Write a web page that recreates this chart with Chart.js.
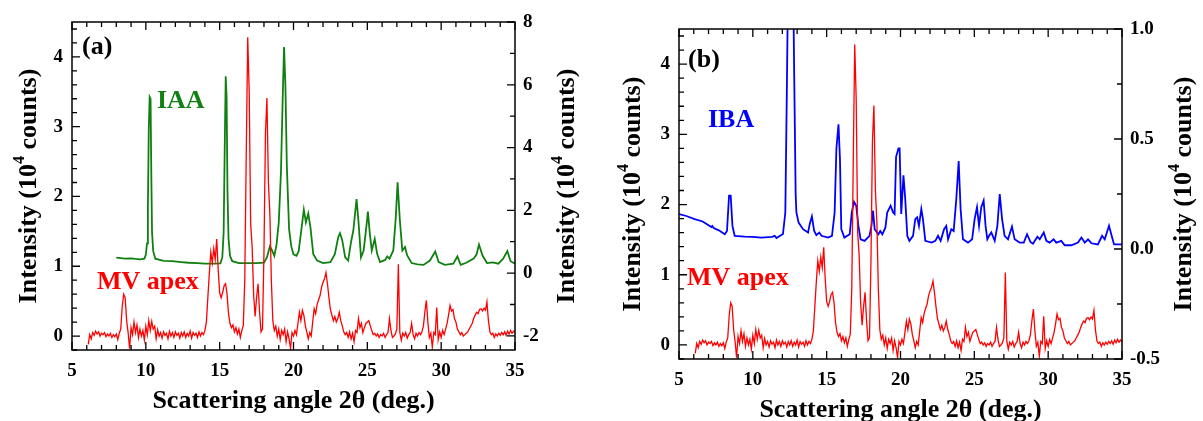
<!DOCTYPE html>
<html>
<head>
<meta charset="utf-8">
<title>XRD patterns</title>
<script src="https://cdn.jsdelivr.net/npm/chart.js@4.4.1/dist/chart.umd.min.js"></script>
<style>
  html, body { margin: 0; padding: 0; background: #fff; }
  body { width: 1203px; height: 421px; position: relative; overflow: hidden; }
  .panel { position: absolute; top: 0; height: 421px; }
</style>
</head>
<body>
<div class="panel" style="left:0;width:600px"><canvas id="panelA" width="600" height="421"></canvas></div>
<div class="panel" style="left:600px;width:603px"><canvas id="panelB" width="603" height="421"></canvas></div>
<script>
// MV apex pattern, one value every 0.1 deg starting at 6.1 deg (left axis, 10^4 counts)
const mvStart = 6.1;
const mvStep = 0.1;
const mvIntensity = [
  -0.12, 0.02, -0.04, 0.05, 0.01, 0.07, 0.03, 0.06, 0.00, 0.04,
  0.02, 0.05, -0.01, 0.03, 0.00, 0.04, -0.02, 0.02, -0.01, 0.03,
  -0.05, 0.04, 0.10, 0.42, 0.60, 0.55, 0.22, 0.05, -0.18, 0.12,
  0.02, 0.20, 0.05, 0.16, -0.02, 0.10, 0.00, 0.08, -0.06, 0.14,
  0.02, 0.22, 0.08, 0.21, 0.10, 0.14, -0.04, 0.09, 0.00, 0.05,
  -0.03, 0.06, 0.01, 0.04, -0.04, 0.07, 0.00, 0.05, -0.02, 0.06,
  0.01, 0.04, -0.03, 0.05, 0.00, 0.06, -0.02, 0.04, 0.00, 0.07,
  -0.03, 0.05, 0.01, 0.04, -0.02, 0.06, 0.00, 0.05, 0.02, 0.08,
  0.20, 0.55, 0.90, 1.20, 1.05, 1.25, 1.10, 1.39, 0.95, 0.62,
  0.55, 0.62, 0.72, 0.75, 0.60, 0.32, 0.18, 0.12, 0.16, 0.06,
  0.12, 0.03, 0.10, -0.02, 0.08, 0.15, 0.80, 2.60, 4.28, 3.50,
  1.60, 1.28, 0.60, 0.28, 0.55, 0.75, 0.35, 0.06, 0.10, 1.20,
  2.90, 3.41, 2.20, 1.75, 0.80, 0.22, 0.08, 0.14, 0.00, 0.10,
  -0.05, 0.08, 0.02, 0.10, -0.08, 0.06, -0.04, -0.18, 0.05, 0.00,
  0.08, 0.02, 0.18, 0.34, 0.22, 0.37, 0.30, 0.15, 0.06, -0.04,
  0.05, 0.00, 0.20, 0.39, 0.32, 0.45, 0.52, 0.58, 0.70, 0.77,
  0.82, 0.91, 0.75, 0.55, 0.38, 0.30, 0.22, 0.28, 0.20, 0.25,
  0.34, 0.22, 0.15, 0.06, 0.02, 0.05, -0.02, 0.06, -0.04, 0.04,
  -0.08, 0.08, 0.05, 0.25, 0.12, 0.18, 0.05, 0.12, 0.18, 0.20,
  0.22, 0.15, 0.08, 0.02, 0.04, 0.00, 0.03, -0.02, 0.02, 0.00,
  0.04, -0.02, 0.02, 0.05, 0.25, 0.08, -0.02, 0.00, 0.03, 0.10,
  1.03, 0.05, -0.06, 0.04, 0.00, 0.05, -0.03, 0.02, 0.05, 0.18,
  0.02, -0.04, 0.04, 0.00, 0.05, 0.02, 0.06, 0.15, 0.35, 0.51,
  0.20, -0.02, 0.04, -0.16, 0.05, 0.02, 0.41, -0.05, 0.06, -0.02,
  0.08, 0.02, 0.10, 0.18, 0.30, 0.44, 0.36, 0.38, 0.25, 0.20,
  0.10, 0.06, 0.02, 0.05, 0.00, 0.02, 0.04, 0.06, 0.10, 0.14,
  0.18, 0.25, 0.30, 0.34, 0.32, 0.38, 0.39, 0.36, 0.40, 0.37,
  0.49, 0.22, 0.06, 0.02, 0.04, -0.02, 0.03, 0.00, 0.04, 0.01,
  0.05, 0.02, 0.06, 0.01, 0.07, 0.03, 0.08, 0.04, 0.07, 0.05
];
const mvAngle = mvIntensity.map((_, i) => Math.round((mvStart + i * mvStep) * 10) / 10);

// IAA pattern (right axis of panel a)
const iaaAngle = [
  8.0, 8.3, 8.6, 9.0, 9.3, 9.6, 9.9, 10.0, 10.08, 10.14, 10.2, 10.26, 10.32, 10.37, 10.42, 10.5, 10.64,
  11.2, 11.8, 12.4, 12.9, 13.5, 14.0, 14.6, 15.05, 15.18, 15.27, 15.34, 15.41, 15.47,
  15.53, 15.6, 15.7, 15.85, 16.3, 16.9, 17.5, 18.0, 18.2, 18.4, 18.55, 18.7, 18.85,
  19.0, 19.15, 19.27, 19.36, 19.45, 19.55, 19.7, 19.85, 20.0, 20.2, 20.35, 20.55,
  20.7, 20.84, 21.0, 21.15, 21.34, 21.6, 22.0, 22.5, 22.8, 23.03, 23.15, 23.3,
  23.5, 23.7, 23.9, 24.05, 24.27, 24.4, 24.57, 24.75, 24.95, 25.04, 25.17, 25.3,
  25.5, 25.66, 25.86, 26.2, 26.35, 26.5, 26.76, 26.93, 27.05, 27.2, 27.37, 27.55,
  27.7, 28.0, 28.4, 28.8, 29.24, 29.6, 29.83, 30.25, 30.82, 31.1, 31.32, 31.7,
  32.2, 32.4, 32.56, 32.8, 33.1, 33.5, 33.87, 34.2, 34.48, 34.7, 35.0
];
const iaaIntensity = [
  0.49, 0.48, 0.46, 0.47, 0.45, 0.44, 0.46, 0.58, 0.95, 2.1, 4.6, 5.61, 5.55, 3.2, 1.3, 0.7, 0.46,
  0.39, 0.38, 0.35, 0.33, 0.32, 0.3, 0.3, 0.31, 0.5, 1.3, 3.9, 6.27, 5.6,
  2.6, 1.1, 0.55, 0.38, 0.32, 0.32, 0.32, 0.33, 0.5, 0.85, 0.72, 0.55, 0.9,
  1.6, 3.2, 5.6, 7.2, 6.0, 3.4, 1.4, 0.85, 0.6, 0.55, 0.7, 1.45,
  2.02, 1.62, 1.9, 1.45, 0.6, 0.4, 0.32, 0.35, 0.6, 1.15, 1.27, 1.05,
  0.5, 0.4, 1.0, 1.35, 2.36, 1.65, 0.5, 0.72, 1.55, 1.96, 1.25, 0.72,
  1.09, 0.62, 0.35, 0.42, 0.53, 0.46, 0.72, 1.8, 2.89, 1.7, 0.72, 0.83,
  0.56, 0.32, 0.28, 0.26, 0.4, 0.69, 0.35, 0.26, 0.3, 0.53, 0.26, 0.33,
  0.46, 0.6, 0.91, 0.56, 0.32, 0.34, 0.3, 0.46, 0.7, 0.38, 0.3
];

// IBA pattern (right axis of panel b)
const ibaAngle = [
  5.0, 5.5, 6.06, 6.6, 7.19, 7.25, 7.35, 7.7, 8.1, 8.25, 8.39, 8.5, 8.62, 8.77,
  9.45, 10.0, 10.58, 11.3, 11.48, 11.6, 12.04, 12.2, 12.3, 12.4, 12.55, 12.7,
  12.8, 12.9, 12.95, 13.1, 13.4, 13.74, 13.85, 14.0, 14.15, 14.3, 14.5, 14.65,
  15.09, 15.36, 15.54, 15.66, 15.8, 15.9, 15.99, 16.2, 16.56, 16.7, 16.85, 17.0,
  17.15, 17.3, 17.57, 17.9, 18.03, 18.14, 18.25, 18.5, 18.63, 18.77, 18.98, 19.1,
  19.33, 19.5, 19.6, 19.7, 19.86, 19.94, 20.05, 20.2, 20.32, 20.46, 20.6, 20.85,
  21.0, 21.13, 21.25, 21.41, 21.52, 21.68, 22.1, 22.36, 22.54, 22.72, 22.95, 23.1,
  23.22, 23.44, 23.6, 23.78, 23.94, 24.07, 24.23, 24.57, 24.85, 25.02, 25.18, 25.32,
  25.47, 25.63, 25.76, 25.88, 26.0, 26.15, 26.38, 26.56, 26.72, 26.88, 27.05, 27.28,
  27.55, 27.73, 28.07, 28.35, 28.57, 28.8, 28.97, 29.27, 29.43, 29.7, 29.88, 30.1,
  30.37, 30.55, 30.89, 31.12, 31.57, 32.02, 32.25, 32.48, 32.7, 32.93, 33.37, 33.65,
  33.83, 34.12, 34.3, 34.46, 35.0
];
const ibaIntensity = [
  0.159, 0.15, 0.136, 0.125, 0.10, 0.105, 0.095, 0.085, 0.067, 0.082, 0.243, 0.243, 0.105, 0.06,
  0.056, 0.055, 0.052, 0.055, 0.06, 0.05, 0.068, 0.166, 0.7, 1.3, 1.7, 1.4,
  0.8, 0.25, 0.166, 0.12, 0.09, 0.075, 0.113, 0.148, 0.083, 0.063, 0.075, 0.06,
  0.052, 0.06, 0.166, 0.457, 0.567, 0.41, 0.09, 0.052, 0.067, 0.166, 0.215, 0.197,
  0.105, 0.044, 0.037, 0.06, 0.105, 0.174, 0.09, 0.067, 0.082, 0.067, 0.098, 0.166,
  0.197, 0.166, 0.159, 0.419, 0.457, 0.457, 0.159, 0.335, 0.228, 0.06, 0.037, 0.06,
  0.136, 0.144, 0.105, 0.182, 0.136, 0.037, 0.029, 0.037, 0.06, 0.037, 0.09, 0.105,
  0.044, 0.09, 0.082, 0.228, 0.40, 0.182, 0.044, 0.029, 0.044, 0.136, 0.19, 0.105,
  0.19, 0.22, 0.105, 0.044, 0.06, 0.075, 0.037, 0.105, 0.25, 0.136, 0.06, 0.044,
  0.102, 0.044, 0.029, 0.029, 0.067, 0.032, 0.024, 0.056, 0.044, 0.075, 0.037, 0.029,
  0.044, 0.029, 0.037, 0.017, 0.017, 0.029, 0.052, 0.029, 0.044, 0.026, 0.021, 0.06,
  0.044, 0.106, 0.06, 0.021, 0.021
];

// tick labels
const angleTicks = [5, 10, 15, 20, 25, 30, 35];
const mvTicks = [0, 1, 2, 3, 4];
const iaaTicks = [-2, 0, 2, 4, 6, 8];
const ibaTicks = [-0.5, 0.0, 0.5, 1.0];

const FONT = '"Liberation Serif", "Times New Roman", serif';
const RED = '#ff0000';

function toPoints(xs, ys) {
  return xs.map((x, i) => ({ x: x, y: ys[i] }));
}

function setTicks(values) {
  return function (scale) {
    scale.ticks = values.map(v => ({ value: v }));
  };
}

function stepValues(scale, step) {
  const out = [];
  for (let k = Math.ceil(scale.min / step - 1e-6); k * step <= scale.max + 1e-6; k++) {
    out.push(k * step);
  }
  return out;
}

// rotated axis title with a raised exponent: Intensity (10^4 counts)
function drawIntensityTitle(ctx, cx, cy) {
  const big = 'bold 26px ' + FONT;
  const small = 'bold 16px ' + FONT;
  const parts = [['Intensity (10', big, 0], ['4', small, -9], [' counts)', big, 0]];
  ctx.save();
  ctx.translate(cx, cy);
  ctx.rotate(-Math.PI / 2);
  ctx.fillStyle = '#000';
  ctx.textBaseline = 'middle';
  ctx.textAlign = 'left';
  let total = 0;
  parts.forEach(p => { ctx.font = p[1]; total += ctx.measureText(p[0]).width; });
  let x = -total / 2;
  parts.forEach(p => {
    ctx.font = p[1];
    ctx.fillText(p[0], x, p[2]);
    x += ctx.measureText(p[0]).width;
  });
  ctx.restore();
}

// frame, inward ticks, titles and the in-plot labels
const framePlugin = {
  id: 'frame',
  afterDraw(chart, args, opts) {
    const ctx = chart.ctx;
    const area = chart.chartArea;
    const sx = chart.scales.x, sy = chart.scales.y, sy2 = chart.scales.y2;
    const majorLen = 8, minorLen = 5;
    const isMajor = (v, step) => Math.abs(v / step - Math.round(v / step)) < 1e-6;

    ctx.save();
    ctx.strokeStyle = '#000';
    ctx.lineWidth = 1.5;
    ctx.strokeRect(area.left, area.top, area.right - area.left, area.bottom - area.top);

    ctx.lineWidth = 1.3;
    ctx.beginPath();
    stepValues(sx, opts.minor.x).forEach(v => {
      const len = isMajor(v, opts.major.x) ? majorLen : minorLen;
      const px = sx.getPixelForValue(v);
      ctx.moveTo(px, area.bottom); ctx.lineTo(px, area.bottom - len);
      ctx.moveTo(px, area.top); ctx.lineTo(px, area.top + len);
    });
    stepValues(sy, opts.minor.y).forEach(v => {
      const len = isMajor(v, opts.major.y) ? majorLen : minorLen;
      const py = sy.getPixelForValue(v);
      ctx.moveTo(area.left, py); ctx.lineTo(area.left + len, py);
    });
    stepValues(sy2, opts.minor.y2).forEach(v => {
      const len = isMajor(v, opts.major.y2) ? majorLen : minorLen;
      const py = sy2.getPixelForValue(v);
      ctx.moveTo(area.right, py); ctx.lineTo(area.right - len, py);
    });
    ctx.stroke();

    const midY = (area.top + area.bottom) / 2;
    drawIntensityTitle(ctx, area.left + opts.leftTitle, midY);
    drawIntensityTitle(ctx, area.right + opts.rightTitle, midY);

    ctx.fillStyle = '#000';
    ctx.font = 'bold 26px ' + FONT;
    ctx.textAlign = 'center';
    ctx.textBaseline = 'middle';
    ctx.fillText('Scattering angle 2\u03b8 (deg.)', (area.left + area.right) / 2, area.bottom + 51);

    ctx.textAlign = 'left';
    opts.labels.forEach(l => {
      ctx.fillStyle = l.color;
      ctx.fillText(l.text, sx.getPixelForValue(l.x), sy.getPixelForValue(l.y));
    });
    ctx.restore();
  }
};

function makePanel(id, p) {
  const ctx = document.getElementById(id).getContext('2d');
  const tickFont = { family: FONT, size: 19, weight: 'bold' };
  return new Chart(ctx, {
    type: 'line',
    data: {
      datasets: [
        { label: 'MV apex', data: toPoints(mvAngle, mvIntensity), yAxisID: 'y',
          borderColor: RED, borderWidth: 1.3 },
        { label: p.name, data: toPoints(p.angle, p.intensity), yAxisID: 'y2',
          borderColor: p.color, borderWidth: 1.8 }
      ]
    },
    options: {
      responsive: false,
      animation: false,
      elements: { point: { radius: 0 }, line: { tension: 0 } },
      layout: { padding: { top: p.top, left: 0, right: 0, bottom: 0 } },
      plugins: {
        legend: { display: false },
        tooltip: { enabled: false },
        frame: p.frame
      },
      scales: {
        x: {
          type: 'linear', min: 5, max: 35,
          grid: { display: false, drawTicks: false },
          border: { display: false },
          afterBuildTicks: setTicks(angleTicks),
          afterFit: s => { s.height = p.bottom; },
          ticks: { font: tickFont, color: '#000', padding: 10, autoSkip: false, maxRotation: 0 }
        },
        y: {
          position: 'left', min: -0.2, max: 4.5,
          grid: { display: false, drawTicks: false },
          border: { display: false },
          afterBuildTicks: setTicks(mvTicks),
          afterFit: s => { s.width = p.left; },
          ticks: { font: tickFont, color: '#000', padding: 9 }
        },
        y2: {
          position: 'right', min: p.rightMin, max: p.rightMax,
          grid: { display: false, drawTicks: false },
          border: { display: false },
          afterBuildTicks: setTicks(p.rightTicks),
          afterFit: s => { s.width = p.right; },
          ticks: { font: tickFont, color: '#000', padding: 8, callback: p.rightFormat }
        }
      }
    },
    plugins: [framePlugin]
  });
}

makePanel('panelA', {
  name: 'IAA', angle: iaaAngle, intensity: iaaIntensity, color: '#0f800f',
  top: 22, bottom: 71, left: 72, right: 85,
  rightMin: -2.45, rightMax: 8, rightTicks: iaaTicks,
  rightFormat: v => String(v),
  frame: {
    major: { x: 5, y: 1, y2: 2 },
    minor: { x: 1, y: 0.2, y2: 1 },
    leftTitle: -43, rightTitle: 52,
    labels: [
      { text: '(a)', x: 5.68, y: 4.14, color: '#000' },
      { text: 'IAA', x: 10.75, y: 3.36, color: '#138013' },
      { text: 'MV apex', x: 6.69, y: 0.77, color: RED }
    ]
  }
});

makePanel('panelB', {
  name: 'IBA', angle: ibaAngle, intensity: ibaIntensity, color: '#0000ff',
  top: 29, bottom: 62, left: 79, right: 81,
  rightMin: -0.5, rightMax: 1.0, rightTicks: ibaTicks,
  rightFormat: v => v.toFixed(1),
  frame: {
    major: { x: 5, y: 1, y2: 0.5 },
    minor: { x: 1, y: 0.2, y2: 0.25 },
    leftTitle: -46, rightTitle: 62,
    labels: [
      { text: '(b)', x: 5.61, y: 4.06, color: '#000' },
      { text: 'IBA', x: 6.96, y: 3.2, color: '#0000ff' },
      { text: 'MV apex', x: 5.54, y: 0.95, color: RED }
    ]
  }
});
</script>
</body>
</html>
